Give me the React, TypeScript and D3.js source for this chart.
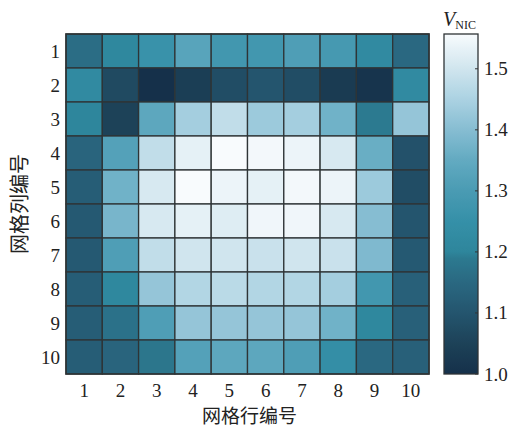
import React from "react";
import * as d3 from "d3";

const rowLabels = ["1", "2", "3", "4", "5", "6", "7", "8", "9", "10"];
const colLabels = ["1", "2", "3", "4", "5", "6", "7", "8", "9", "10"];

const row1 = [1.16, 1.21, 1.26, 1.33, 1.28, 1.28, 1.31, 1.29, 1.22, 1.15];
const row2 = [1.22, 1.07, 1.0, 1.04, 1.08, 1.1, 1.08, 1.03, 1.01, 1.22];
const row3 = [1.2, 1.05, 1.34, 1.44, 1.48, 1.43, 1.44, 1.37, 1.19, 1.42];
const row4 = [1.14, 1.32, 1.48, 1.53, 1.557, 1.55, 1.54, 1.51, 1.36, 1.09];
const row5 = [1.12, 1.37, 1.51, 1.557, 1.54, 1.53, 1.55, 1.54, 1.43, 1.08];
const row6 = [1.11, 1.38, 1.51, 1.53, 1.52, 1.545, 1.545, 1.51, 1.4, 1.1];
const row7 = [1.11, 1.31, 1.48, 1.5, 1.5, 1.49, 1.5, 1.49, 1.39, 1.11];
const row8 = [1.12, 1.21, 1.42, 1.46, 1.47, 1.46, 1.46, 1.44, 1.28, 1.13];
const row9 = [1.12, 1.17, 1.31, 1.42, 1.42, 1.42, 1.42, 1.37, 1.21, 1.13];
const row10 = [1.12, 1.14, 1.18, 1.32, 1.34, 1.34, 1.31, 1.24, 1.15, 1.13];
const grid = [row1, row2, row3, row4, row5, row6, row7, row8, row9, row10];

const colorTicks = [1.0, 1.1, 1.2, 1.3, 1.4, 1.5];
const vMin = 1.0;
const vMax = 1.557;

const stopValues = [1.0, 1.05, 1.1, 1.15, 1.19, 1.2, 1.25, 1.3, 1.35, 1.4, 1.45, 1.5, 1.557];
const stopColors = [
  "#15304a", "#1d4258", "#24556e", "#2a6881", "#2c7a90", "#2e869c", "#3590a8",
  "#4a9bb3", "#62aac1", "#86bdd2", "#abd2e2", "#d0e5ee", "#f8fbfd",
];

const color = d3.scaleLinear<string>().domain(stopValues).range(stopColors).clamp(true);

export default function App() {
  const W = 514, H = 427;
  const left = 66, right = 429, top = 34, bottom = 374;
  const x = d3.scaleBand().domain(colLabels).range([left, right]);
  const y = d3.scaleBand().domain(rowLabels).range([top, bottom]);
  const cbL = 444, cbR = 478;
  const cy = d3.scaleLinear().domain([vMin, vMax]).range([bottom, top]);
  const gradStops = d3.range(0, 101).map((i) => vMin + ((vMax - vMin) * i) / 100);
  const serif = "'Liberation Serif', 'Times New Roman', serif";
  const cjk = "'Noto Sans CJK SC', sans-serif";
  return (
    <svg width={W} height={H} style={{ position: "absolute", left: 0, top: 0, background: "#fff" }}>
      <defs>
        <linearGradient id="cb" x1="0" y1="1" x2="0" y2="0">
          {gradStops.map((v, i) => (
            <stop key={i} offset={`${i}%`} stopColor={color(v)} />
          ))}
        </linearGradient>
      </defs>
      {grid.map((row, ri) =>
        row.map((v, ci) => (
          <rect
            key={`${ri}-${ci}`}
            x={x(colLabels[ci])}
            y={y(rowLabels[ri])}
            width={x.bandwidth()}
            height={y.bandwidth()}
            fill={color(v)}
            stroke="#2e3436"
            strokeWidth={1.3}
          />
        ))
      )}
      <rect x={left} y={top} width={right - left} height={bottom - top} fill="none" stroke="#2e3436" strokeWidth={1.5} />
      {colLabels.map((c) => (
        <text key={c} x={x(c)! + x.bandwidth() / 2} y={397} textAnchor="middle" fontFamily={serif} fontSize={19} fill="#222">
          {c}
        </text>
      ))}
      {rowLabels.map((r) => (
        <text key={r} x={60} y={y(r)! + y.bandwidth() / 2 + 6.5} textAnchor="end" fontFamily={serif} fontSize={19} fill="#222">
          {r}
        </text>
      ))}
      <text x={(left + right) / 2 + 2} y={423} textAnchor="middle" fontFamily={cjk} fontSize={19} fill="#222">
        网格行编号
      </text>
      <text
        transform={`translate(27, ${(top + bottom) / 2}) rotate(-90)`}
        textAnchor="middle"
        fontFamily={cjk}
        fontSize={20}
        fill="#222"
      >
        网格列编号
      </text>
      <rect x={cbL} y={top} width={cbR - cbL} height={bottom - top} fill="url(#cb)" stroke="#2e3436" strokeWidth={1.3} />
      {colorTicks.map((t) => (
        <g key={t}>
          <line x1={cbR - 3} x2={cbR} y1={cy(t)} y2={cy(t)} stroke="#333" strokeWidth={1} />
          <text x={484} y={cy(t) + 6.5} fontFamily={serif} fontSize={19} fill="#222">
            {t.toFixed(1)}
          </text>
        </g>
      ))}
      <text x={443} y={26} fontFamily={serif} fontSize={20} fill="#222">
        <tspan fontStyle="italic">V</tspan>
        <tspan fontSize={12} dy={3}>NIC</tspan>
      </text>
    </svg>
  );
}
